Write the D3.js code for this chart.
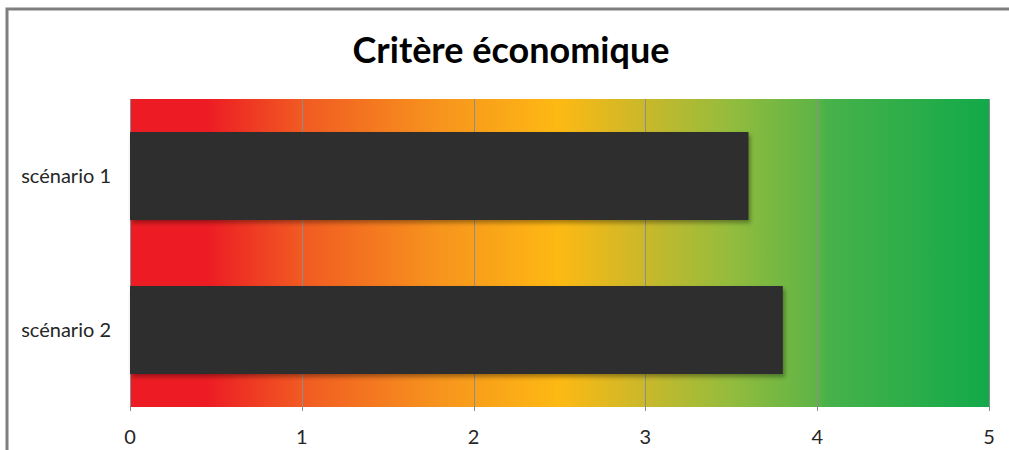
<!DOCTYPE html>
<html>
<head>
<meta charset="utf-8">
<script src="https://cdn.jsdelivr.net/npm/d3@7"></script>
<style>
  html, body { margin: 0; padding: 0; background: #fff; overflow: hidden; }
  svg { display: block; }
</style>
</head>
<body>
<svg id="chart" width="1009" height="450"></svg>
<script>
// Data
const categories = ["scénario 1", "scénario 2"];
const scores = [3.6, 3.8];
const tickValues = [0, 1, 2, 3, 4, 5];
const titleText = "Critère économique";

// Background colour ramp along the score axis (red → orange → yellow → green)
const rampStops = [
  { v: 0.0, c: "#ed1c24" },
  { v: 0.45, c: "#ed1c24" },
  { v: 1.0, c: "#f15a22" },
  { v: 1.8, c: "#f7941d" },
  { v: 2.5, c: "#fdb913" },
  { v: 3.0, c: "#c9b82b" },
  { v: 3.5, c: "#93bc3d" },
  { v: 4.0, c: "#5eb446" },
  { v: 4.05, c: "#48b249" },
  { v: 5.0, c: "#12a94a" }
];

const svg = d3.select("#chart");
const W = 1009, H = 450;

// Frame (left and top edges only)
svg.append("rect").attr("x", 0).attr("y", 0).attr("width", W).attr("height", H).attr("fill", "#fff");
svg.append("path")
  .attr("d", `M7,${H} L7,9 L${W},9`)
  .attr("fill", "none")
  .attr("stroke", "#7f7f7f")
  .attr("stroke-width", 3);

const plot = { left: 130, right: 989, top: 99, bottom: 407 };

const x = d3.scaleLinear().domain([0, 5]).range([plot.left, plot.right]);
const y = d3.scaleBand().domain(categories).range([plot.top, plot.bottom])
  .paddingInner(3 / 7).paddingOuter(3 / 14);

const defs = svg.append("defs");
const grad = defs.append("linearGradient")
  .attr("id", "ramp")
  .attr("gradientUnits", "userSpaceOnUse")
  .attr("x1", x(0)).attr("x2", x(5)).attr("y1", 0).attr("y2", 0);
grad.selectAll("stop").data(rampStops).join("stop")
  .attr("offset", d => d.v / 5)
  .attr("stop-color", d => d.c);

const shadow = defs.append("filter").attr("id", "shadow")
  .attr("x", "-5%").attr("y", "-10%").attr("width", "115%").attr("height", "130%");
shadow.append("feDropShadow")
  .attr("dx", 2).attr("dy", 3).attr("stdDeviation", 2)
  .attr("flood-color", "#000").attr("flood-opacity", 0.35);

// Plot background ramp
svg.append("rect")
  .attr("x", x(0)).attr("y", plot.top)
  .attr("width", x(5) - x(0)).attr("height", plot.bottom - plot.top)
  .attr("fill", "url(#ramp)");

// Vertical gridlines with small ticks below the plot
svg.append("g").selectAll("line").data(tickValues).join("line")
  .attr("x1", d => Math.round(x(d)) + 0.5).attr("x2", d => Math.round(x(d)) + 0.5)
  .attr("y1", plot.top).attr("y2", plot.bottom + 4)
  .attr("stroke", "#8c8c8c").attr("stroke-width", 1);

// Bars
svg.append("g").selectAll("rect").data(categories).join("rect")
  .attr("x", x(0))
  .attr("y", d => y(d))
  .attr("width", (d, i) => x(scores[i]) - x(0))
  .attr("height", y.bandwidth())
  .attr("fill", "#2f2f2f")
  .attr("filter", "url(#shadow)");

const fontFamily = "Lato, 'Noto Sans', 'DejaVu Sans', sans-serif";

// Category labels
svg.append("g").selectAll("text").data(categories).join("text")
  .attr("x", 111)
  .attr("y", d => y(d) + y.bandwidth() / 2)
  .attr("dy", "0.35em")
  .attr("text-anchor", "end")
  .attr("font-family", fontFamily)
  .attr("font-size", 20)
  .attr("fill", "#262626")
  .text(d => d);

// Axis tick labels
svg.append("g").selectAll("text").data(tickValues).join("text")
  .attr("x", d => x(d))
  .attr("y", 437)
  .attr("dy", "0.35em")
  .attr("text-anchor", "middle")
  .attr("font-family", fontFamily)
  .attr("font-size", 20)
  .attr("fill", "#262626")
  .text(d => d);

// Title
svg.append("text")
  .attr("x", 511)
  .attr("y", 63)
  .attr("text-anchor", "middle")
  .attr("font-family", fontFamily)
  .attr("font-weight", "bold")
  .attr("font-size", 36)
  .attr("fill", "#000")
  .text(titleText);
</script>
</body>
</html>
